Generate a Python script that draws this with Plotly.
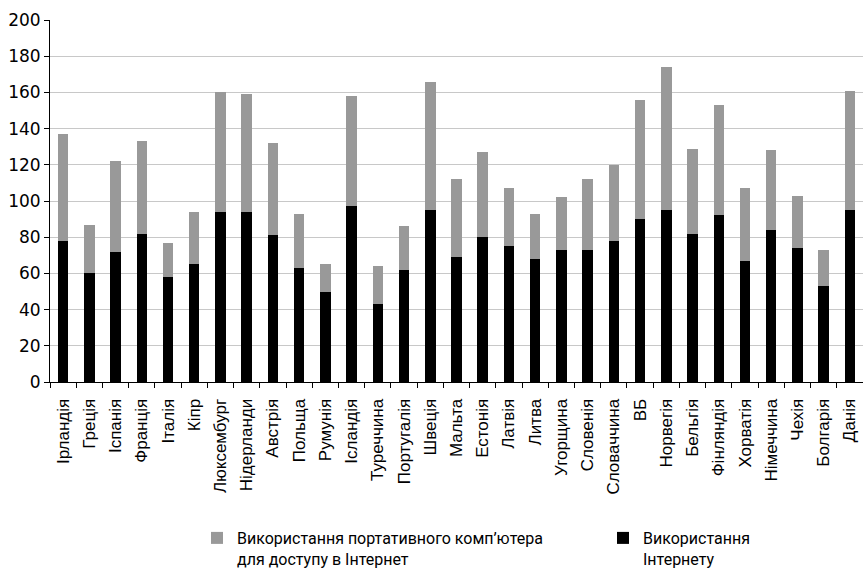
import plotly.graph_objects as go

countries = ["Ірландія", "Греція", "Іспанія", "Франція", "Італія", "Кіпр", "Люксембург",
             "Нідерланди", "Австрія", "Польща", "Румунія", "Ісландія", "Туреччина",
             "Португалія", "Швеція", "Мальта", "Естонія", "Латвія", "Литва", "Угорщина",
             "Словенія", "Словаччина", "ВБ", "Норвегія", "Бельгія", "Фінляндія",
             "Хорватія", "Німеччина", "Чехія", "Болгарія", "Данія"]

internet_use = [78, 60, 72, 82, 58, 65, 94, 94, 81, 63, 50, 97, 43, 62, 95, 69, 80,
                75, 68, 73, 73, 78, 90, 95, 82, 92, 67, 84, 74, 53, 95]

laptop_use = [59, 27, 50, 51, 19, 29, 66, 65, 51, 30, 15, 61, 21, 24, 71, 43, 47,
              32, 25, 29, 39, 42, 66, 79, 47, 61, 40, 44, 29, 20, 66]

y_ticks = [0, 20, 40, 60, 80, 100, 120, 140, 160, 180, 200]

name_laptop = "Використання портативного комп’ютера<br>для доступу в Інтернет"
name_internet = "Використання<br>Інтернету"

W, H = 863, 573
ml, mr, mt, mb = 50, 0, 20, 191
plot_h = H - mt - mb


def py(px):
    return (H - mb - px) / plot_h


def px_x(px):
    return (px - ml) / (W - ml - mr)


fig = go.Figure()
fig.add_trace(go.Bar(x=countries, y=internet_use, name=name_internet,
                     marker=dict(color="#000000", line=dict(width=0)),
                     legend="legend2"))
fig.add_trace(go.Bar(x=countries, y=laptop_use, name=name_laptop,
                     marker=dict(color="#999999", line=dict(width=0)),
                     legend="legend"))

legend_font = dict(family="Roboto, sans-serif", size=16, color="#000000")

fig.update_layout(
    width=W, height=H,
    margin=dict(l=ml, r=mr, t=mt, b=mb, autoexpand=False),
    paper_bgcolor="#ffffff", plot_bgcolor="#ffffff",
    barmode="stack", bargap=0.6,
    showlegend=True,
    legend=dict(x=px_x(197), y=py(521), xanchor="left", yanchor="top",
                font=legend_font, valign="top", bgcolor="rgba(0,0,0,0)",
                itemclick=False),
    legend2=dict(x=px_x(603), y=py(521), xanchor="left", yanchor="top",
                 font=legend_font, valign="top", bgcolor="rgba(0,0,0,0)",
                 itemclick=False),
    xaxis=dict(
        tickangle=-90, ticks="outside", tickson="boundaries", ticklen=5,
        tickcolor="#000000", tickwidth=1,
        showline=True, linecolor="#000000", linewidth=1,
        showgrid=False, automargin=False, ticklabelstandoff=9,
        tickfont=dict(family="Liberation Sans, Arial, sans-serif", size=17, color="#000000"),
        fixedrange=True,
    ),
    yaxis=dict(
        range=[0, 200], tickvals=y_ticks, ticks="outside", ticklen=5,
        tickcolor="#000000", tickwidth=1,
        showline=True, linecolor="#000000", linewidth=1,
        showgrid=True, gridcolor="#c8c8c8", gridwidth=1,
        zeroline=False, automargin=False,
        tickfont=dict(family="DejaVu Sans, sans-serif", size=17, color="#000000"),
        fixedrange=True,
    ),
)

fig.write_html(
    "out.html",
    config={"displayModeBar": False},
    post_script="document.body.style.margin='0px';document.body.style.padding='0px';"
                "document.body.style.overflow='hidden';",
)
